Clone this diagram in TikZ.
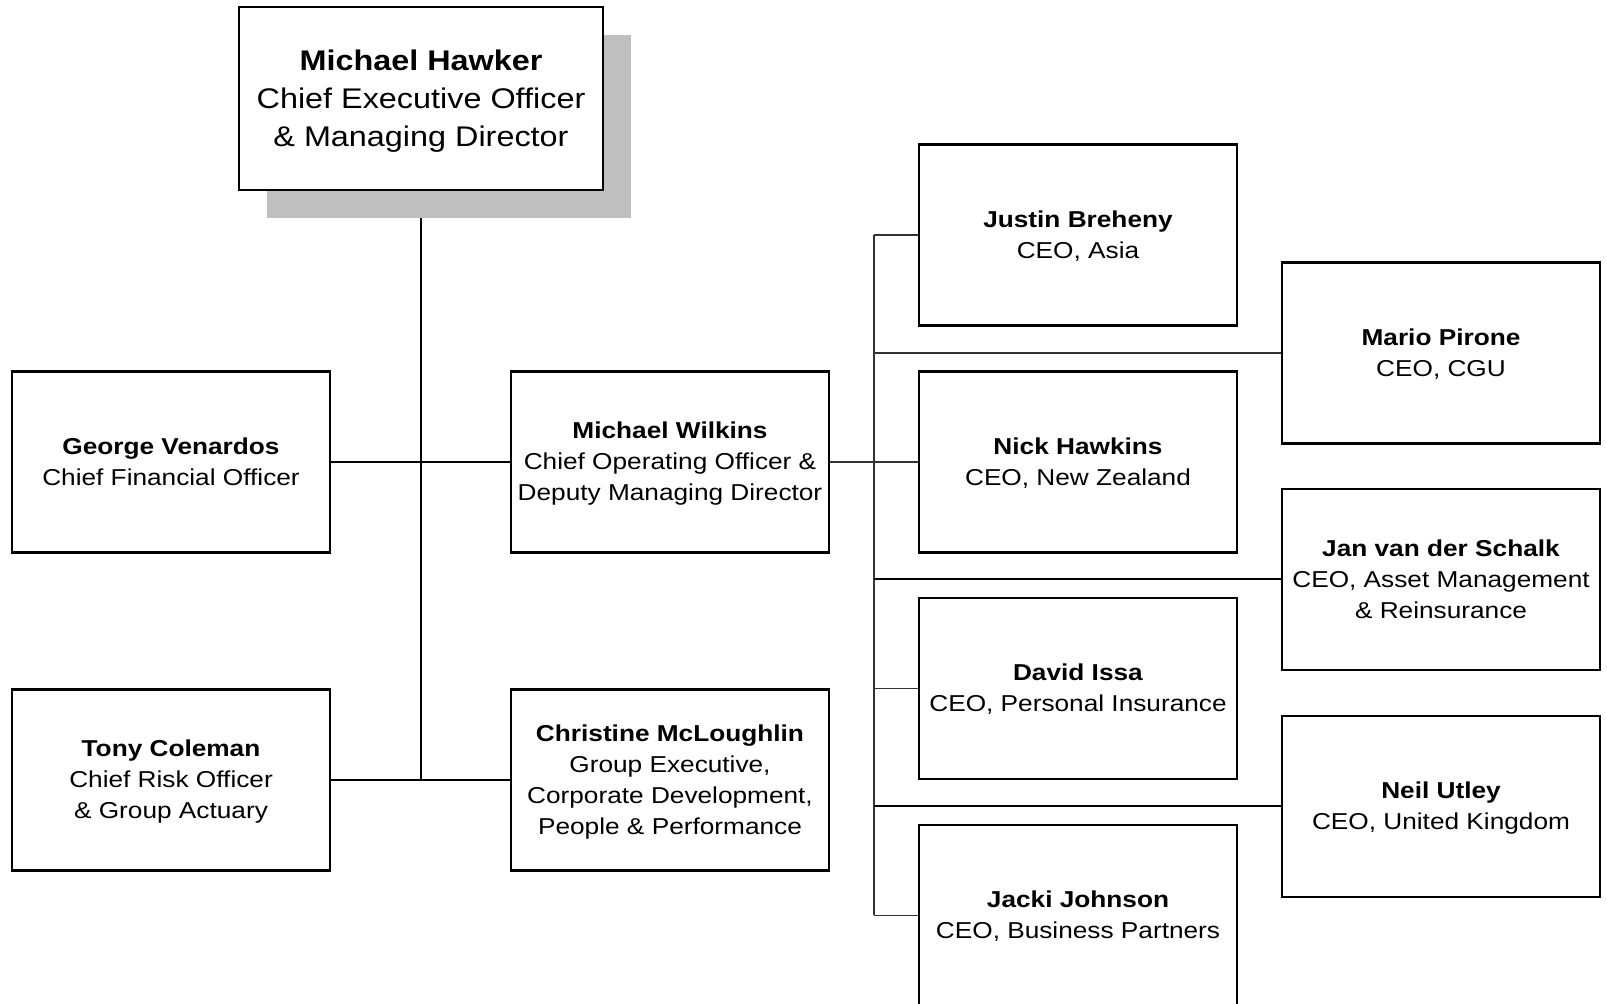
\documentclass[tikz,border=0pt]{standalone}
\usepackage{fontspec}
\setmainfont{Liberation Sans}[FakeStretch=1.14]
\usetikzlibrary{backgrounds}
\newcommand\ts{\rule{0pt}{12.5pt}}
\newcommand\tsb{\rule{0pt}{16pt}}
\begin{document}
\begin{tikzpicture}[x=0.5pt,y=-0.5pt,
  box/.style={draw=black, line width=1.1pt, fill=white, inner sep=0pt,
    minimum width=159pt, minimum height=90.5pt, align=center,
    font=\fontsize{11.5}{15.5}\selectfont,
    execute at end node=\strut},
  bigbox/.style={box, minimum width=182pt, minimum height=91.5pt,
    font=\fontsize{14.2}{19}\selectfont},
  thickline/.style={line width=1pt, black},
  thinline/.style={line width=0.55pt, black!80}]
\useasboundingbox (0,0) rectangle (1607,1004);
\node[bigbox] (ceo) at (421,98.5) {\tsb\textbf{Michael Hawker}\\Chief Executive Officer\\\& Managing Director};
\node[box] (george) at (171,462) {\ts\textbf{George Venardos}\\Chief Financial Officer};
\node[box] (tony) at (171,780) {\ts\textbf{Tony Coleman}\\Chief Risk Officer\\\& Group Actuary};
\node[box] (wilkins) at (670,462) {\ts\textbf{Michael Wilkins}\\Chief Operating Officer \&\\Deputy Managing Director};
\node[box] (christine) at (670,780) {\ts\textbf{Christine McLoughlin}\\Group Executive,\\Corporate Development,\\People \& Performance};
\node[box] (justin) at (1078,235) {\ts\textbf{Justin Breheny}\\CEO, Asia};
\node[box] (nick) at (1078,462) {\ts\textbf{Nick Hawkins}\\CEO, New Zealand};
\node[box] (david) at (1078,688.5) {\ts\textbf{David Issa}\\CEO, Personal Insurance};
\node[box] (jacki) at (1078,915.5) {\ts\textbf{Jacki Johnson}\\CEO, Business Partners};
\node[box] (mario) at (1441,353) {\ts\textbf{Mario Pirone}\\CEO, CGU};
\node[box] (jan) at (1441,579.5) {\ts\textbf{Jan van der Schalk}\\CEO, Asset Management\\\& Reinsurance};
\node[box] (neil) at (1441,806.5) {\ts\textbf{Neil Utley}\\CEO, United Kingdom};
\coordinate (tb) at (421,780);
\begin{scope}[on background layer]
  % trunk, then the CEO shadow over it
  \draw[thickline] (ceo.south) -- (tb);
  \fill[black!25] (267,35) rectangle (631,218);
\end{scope}
\draw[thickline] (george.east) -- (wilkins.west);
\draw[thickline] (tony.east) -- (christine.west);
% right bus
\coordinate (bt) at (874,235);
\draw[thinline] (bt) -- (bt |- jacki.west);
\draw[thinline] (bt) -- (justin.west);
\draw[thinline] (wilkins.east) -- (nick.west);
\draw[thinline] (bt |- mario.west) -- (mario.west);
\draw[thickline] (bt |- jan.west) -- (jan.west);
\draw[thinline] (bt |- david.west) -- (david.west);
\draw[thickline] (bt |- neil.west) -- (neil.west);
\draw[thinline] (bt |- jacki.west) -- (jacki.west);
\end{tikzpicture}
\end{document}
